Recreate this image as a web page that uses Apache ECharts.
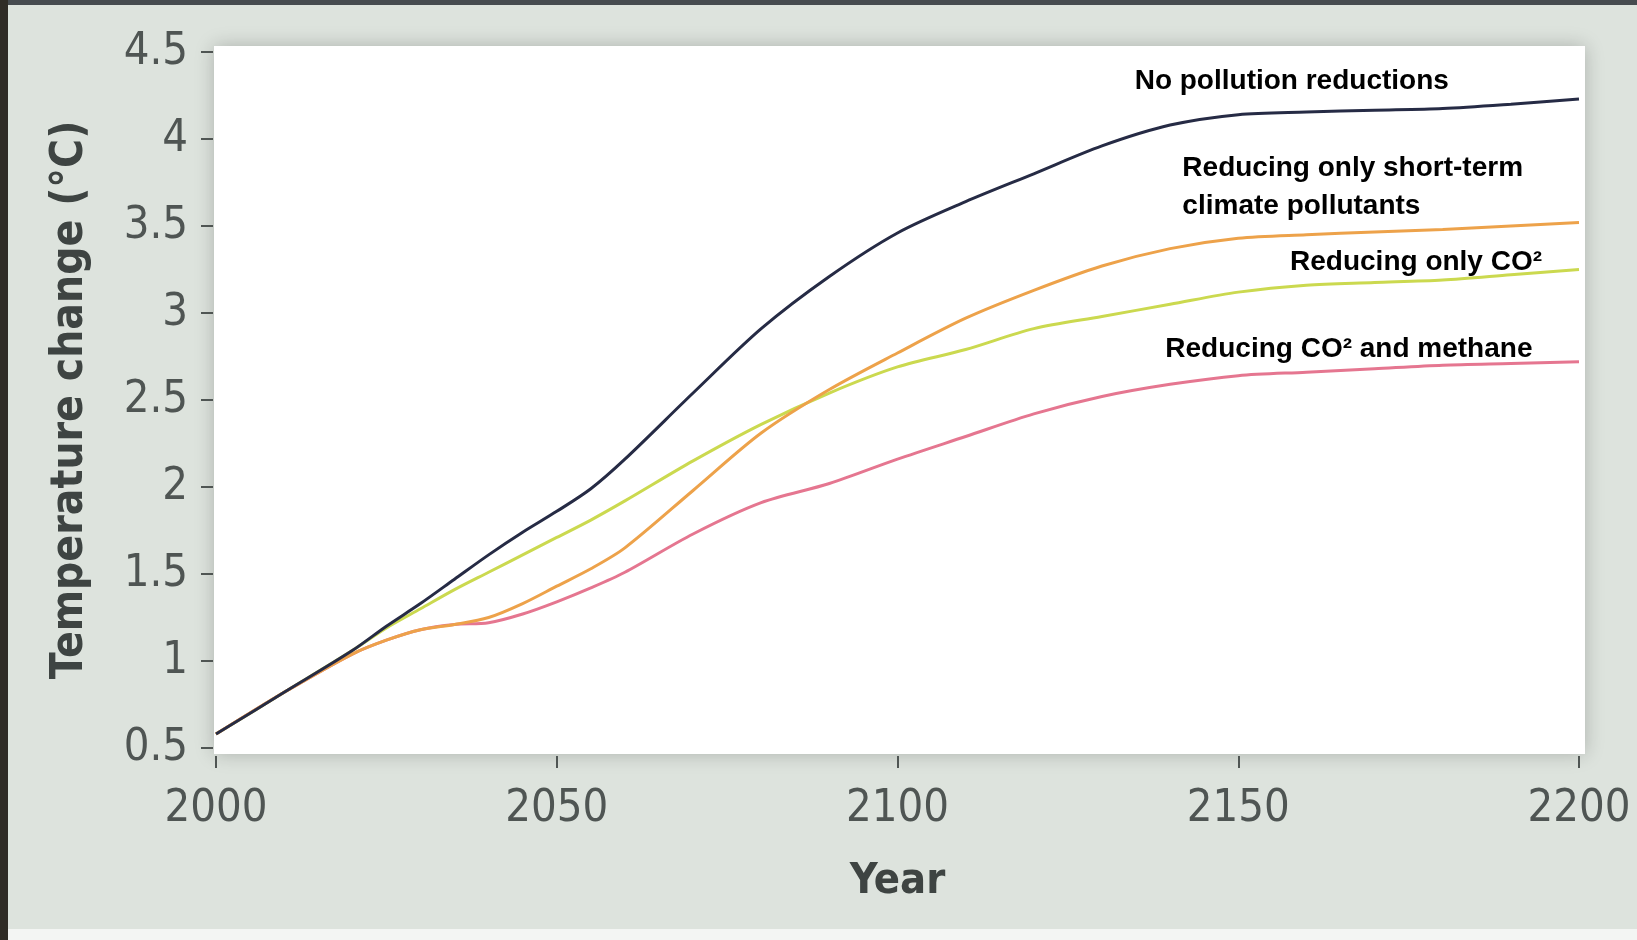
<!DOCTYPE html>
<html>
<head>
<meta charset="utf-8">
<title>Temperature change</title>
<script src="https://cdn.jsdelivr.net/npm/echarts@6/dist/echarts.min.js"></script>
<style>
  html, body { margin: 0; padding: 0; background: #dde3dd; }
  #chart { width: 1637px; height: 940px; }
</style>
</head>
<body>
<div id="chart"></div>
<script>
// years
const years = [2000, 2010, 2020, 2025, 2030, 2035, 2040, 2045, 2050, 2055, 2060,
  2070, 2080, 2090, 2100, 2110, 2120, 2130, 2140, 2150, 2160, 2170, 2180, 2190, 2200];

const noReductions = [0.58, 0.82, 1.06, 1.20, 1.33, 1.47, 1.61, 1.74, 1.86, 1.99, 2.16,
  2.54, 2.91, 3.21, 3.46, 3.64, 3.80, 3.96, 4.08, 4.14, 4.155, 4.165, 4.175, 4.20, 4.23];
const onlyShortTerm = [0.58, 0.82, 1.04, 1.12, 1.18, 1.21, 1.25, 1.33, 1.43, 1.53, 1.65,
  1.98, 2.31, 2.56, 2.77, 2.97, 3.13, 3.27, 3.37, 3.43, 3.45, 3.465, 3.48, 3.50, 3.52];
const onlyCO2 = [0.58, 0.82, 1.06, 1.19, 1.30, 1.41, 1.51, 1.61, 1.71, 1.81, 1.92,
  2.15, 2.36, 2.54, 2.69, 2.79, 2.91, 2.98, 3.05, 3.12, 3.16, 3.175, 3.19, 3.22, 3.25];
const co2AndMethane = [0.58, 0.82, 1.04, 1.12, 1.18, 1.21, 1.22, 1.27, 1.34, 1.42, 1.51,
  1.73, 1.91, 2.02, 2.16, 2.29, 2.42, 2.52, 2.59, 2.64, 2.66, 2.68, 2.70, 2.71, 2.72];

const tickFont = "'Liberation Sans Narrow', 'DejaVu Sans Condensed', sans-serif";
const noteFont = "'Liberation Sans', Arial, sans-serif";

function pairs(vals) {
  return years.map((y, i) => [y, vals[i]]);
}

// a text note anchored at a data point (left edge, vertical middle)
function note(text, coord) {
  return {
    silent: true,
    symbol: "circle",
    symbolSize: 0,
    label: {
      show: true,
      position: "inside",
      align: "left",
      verticalAlign: "middle",
      formatter: text,
      color: "#000",
      fontFamily: noteFont,
      fontWeight: "bold",
      fontSize: 28,
      lineHeight: 38,
    },
    data: [{ coord: coord }],
  };
}

let dom = document.getElementById("chart");
let myChart = echarts.init(dom, null, { renderer: "canvas" });

let option = {
  backgroundColor: "#dde3dd",
  animation: false,
  graphic: [
    { type: "rect", z: 0, shape: { x: 0, y: 0, width: 1637, height: 5 }, style: { fill: "#464b4f" } },
    { type: "rect", z: 0, shape: { x: 0, y: 0, width: 8, height: 940 }, style: { fill: "#2f2c26" } },
    { type: "rect", z: 0, shape: { x: 8, y: 929, width: 1629, height: 11 }, style: { fill: "#f3f5f3" } },
    {
      type: "rect", z: 0,
      shape: { x: 214, y: 46, width: 1371, height: 708 },
      style: { fill: "#ffffff", shadowBlur: 18, shadowColor: "rgba(0,0,0,0.22)" },
    },
  ],
  grid: { left: 216, right: 58, top: 52, bottom: 192 },
  xAxis: {
    type: "value",
    min: 2000,
    max: 2200,
    interval: 50,
    offset: 8,
    name: "Year",
    nameLocation: "middle",
    nameGap: 104,
    nameTextStyle: { fontFamily: tickFont, fontWeight: "bold", fontSize: 43, color: "#3e4442" },
    axisLine: { show: false },
    axisTick: { show: true, length: 12, lineStyle: { color: "#4f5553", width: 2 } },
    axisLabel: {
      fontFamily: tickFont, fontSize: 45, color: "#4f5553", margin: 31,
      formatter: (v) => String(v),
    },
    splitLine: { show: false },
  },
  yAxis: {
    type: "value",
    min: 0.5,
    max: 4.5,
    interval: 0.5,
    offset: 3,
    name: "Temperature change (°C)",
    nameLocation: "middle",
    nameGap: 120,
    nameTextStyle: { fontFamily: tickFont, fontWeight: "bold", fontSize: 44, color: "#3e4442" },
    axisLine: { show: false },
    axisTick: { show: true, length: 12, lineStyle: { color: "#4f5553", width: 2 } },
    axisLabel: { fontFamily: tickFont, fontSize: 45, color: "#4f5553", margin: 25 },
    splitLine: { show: false },
  },
  series: [
    {
      name: "Reducing CO² and methane",
      type: "line",
      smooth: 0.3,
      showSymbol: false,
      lineStyle: { color: "#e57690", width: 3 },
      data: pairs(co2AndMethane),
      markPoint: note("Reducing CO² and methane", [2139.3, 2.79]),
    },
    {
      name: "Reducing only CO²",
      type: "line",
      smooth: 0.3,
      showSymbol: false,
      lineStyle: { color: "#cbd94f", width: 3 },
      data: pairs(onlyCO2),
      markPoint: note("Reducing only CO²", [2157.6, 3.29]),
    },
    {
      name: "Reducing only short-term climate pollutants",
      type: "line",
      smooth: 0.3,
      showSymbol: false,
      lineStyle: { color: "#eda24a", width: 3 },
      data: pairs(onlyShortTerm),
      markPoint: note("Reducing only short-term\nclimate pollutants", [2141.8, 3.72]),
    },
    {
      name: "No pollution reductions",
      type: "line",
      smooth: 0.3,
      showSymbol: false,
      lineStyle: { color: "#262b45", width: 3 },
      data: pairs(noReductions),
      markPoint: note("No pollution reductions", [2134.8, 4.33]),
    },
  ],
};

if (option && typeof option === "object") {
  myChart.setOption(option);
}

window.addEventListener("resize", myChart.resize);
</script>
</body>
</html>
